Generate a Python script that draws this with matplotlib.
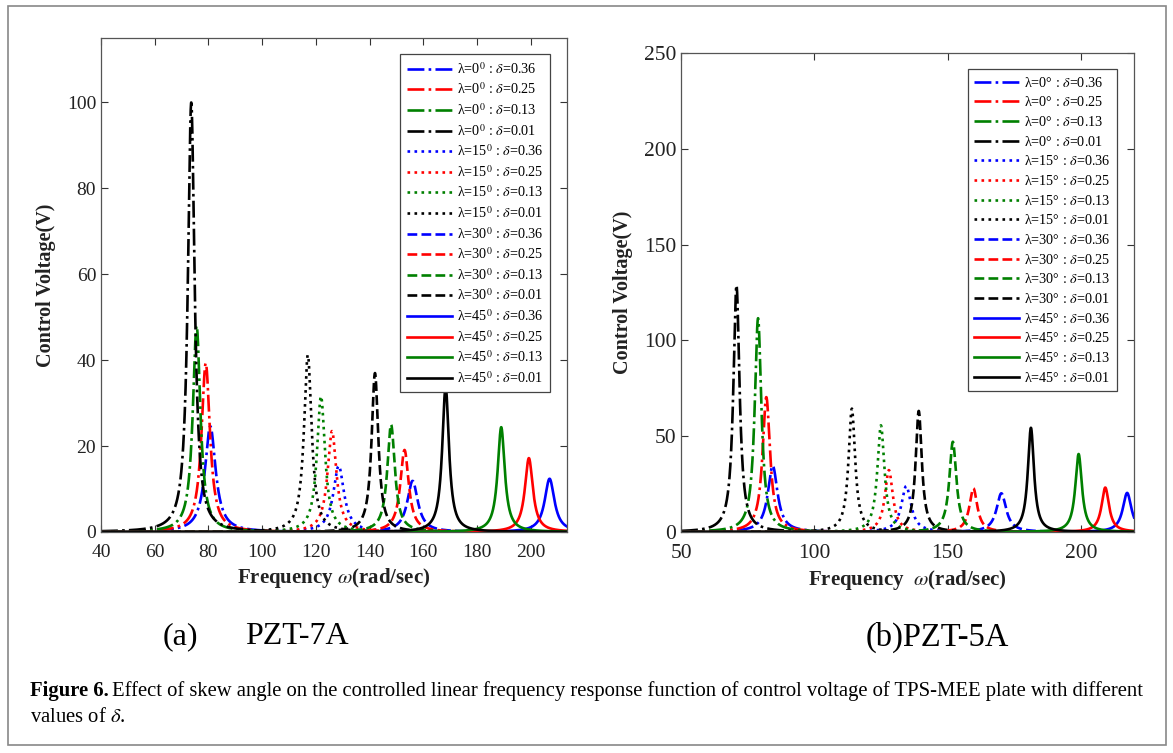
import numpy as np
import matplotlib
matplotlib.use("Agg")
import matplotlib.pyplot as plt
from matplotlib.patches import Rectangle

plt.rcParams['font.family'] = ['Liberation Serif', 'DejaVu Serif']
plt.rcParams['mathtext.fontset'] = 'stix'

# skew angles (rows) and delta values (columns)
skew_angles = [0, 15, 30, 45]
deltas = [0.36, 0.25, 0.13, 0.01]
colors = ['#0000ff', '#ff0000', '#008000', '#000000']
styles = ['-.', ':', '--', '-']

# PZT-7A : resonance frequency (rad/s), peak voltage (V), half width (rad/s)
pzt7a_freq = [[80.7, 79.0, 75.6, 73.6],
              [128.5, 126.0, 121.9, 117.0],
              [156.0, 153.0, 148.0, 142.0],
              [207.0, 199.3, 189.0, 168.3]]
pzt7a_volt = [[24.6, 39.3, 48.0, 100.0],
              [15.4, 23.5, 31.6, 41.2],
              [11.9, 19.1, 25.0, 37.0],
              [12.4, 17.2, 24.4, 33.9]]
pzt7a_width = [[2.4, 1.9, 1.7, 1.5],
               [2.4, 2.0, 1.8, 1.7],
               [2.4, 1.9, 1.7, 1.5],
               [2.2, 1.8, 1.6, 1.5]]

# PZT-5A
pzt5a_freq = [[84.4, 82.0, 78.9, 70.8],
              [134.5, 128.0, 125.0, 114.1],
              [170.2, 159.7, 152.0, 139.2],
              [217.4, 209.2, 199.2, 181.3]]
pzt5a_volt = [[34.6, 70.4, 111.6, 128.8],
              [24.0, 32.3, 55.7, 64.4],
              [20.2, 22.8, 47.1, 63.2],
              [20.4, 23.2, 40.7, 54.4]]
pzt5a_width = [[2.2, 1.7, 1.5, 1.4],
               [2.2, 1.8, 1.6, 1.5],
               [2.2, 1.8, 1.6, 1.4],
               [2.0, 1.7, 1.5, 1.4]]


def response(w, w0, vmax, g):
    # single mode resonance curve around w0
    return vmax / (1.0 + ((w - w0) / g) ** 2)


def draw_panel(ax, freq, volt, width, xlim, ylim, xticks, yticks, deg, tsize, xlab, spacing):
    w = np.linspace(xlim[0], xlim[1], 4000)
    for i, lam in enumerate(skew_angles):
        for j, d in enumerate(deltas):
            if deg:
                lab = 'λ=%d° : $\\delta$=%.2f' % (lam, d)
            else:
                lab = 'λ=%d$^{0}$ : $\\delta$=%.2f' % (lam, d)
            ax.plot(w, response(w, freq[i][j], volt[i][j], width[i][j]),
                    color=colors[j], linestyle=styles[i], lw=1.9, label=lab)
    ax.set_xlim(xlim)
    ax.set_ylim(ylim)
    ax.set_xticks(xticks)
    ax.set_yticks(yticks)
    ax.tick_params(direction='in', top=True, right=True, length=5,
                   width=0.8, labelsize=tsize, colors='#333333', labelcolor='#222222')
    ax.tick_params(axis='x', pad=9)
    for s in ax.spines.values():
        s.set_color('#555555')
        s.set_linewidth(0.9)
    ax.set_xlabel(xlab, fontsize=15, fontweight='bold', color='#222222', labelpad=3)
    ax.set_ylabel('Control Voltage(V)', fontsize=14.5, fontweight='bold',
                  color='#222222', labelpad=8)
    leg = ax.legend(loc='upper right', bbox_to_anchor=(0.978, 0.981), fontsize=10.2,
                    labelspacing=spacing, handlelength=3.2, handletextpad=0.35,
                    borderpad=0.45, fancybox=False, framealpha=1)
    leg.get_frame().set_edgecolor('#444444')
    leg.get_frame().set_linewidth(0.9)


fig = plt.figure(figsize=(11.73, 7.53), dpi=100)
ax1 = fig.add_axes([0.0861, 0.2935, 0.3973, 0.656])
ax2 = fig.add_axes([0.5806, 0.2935, 0.3862, 0.636])

draw_panel(ax1, pzt7a_freq, pzt7a_volt, pzt7a_width, (40, 213.5), (0, 115),
           [40, 60, 80, 100, 120, 140, 160, 180, 200], [0, 20, 40, 60, 80, 100],
           False, 14, 'Frequency $\\omega$(rad/sec)', 0.34)
draw_panel(ax2, pzt5a_freq, pzt5a_volt, pzt5a_width, (50, 220), (0, 250),
           [50, 100, 150, 200], [0, 50, 100, 150, 200, 250],
           True, 15.5, 'Frequency  $\\omega$(rad/sec)', 0.40)

# outer frame of the figure
fig.patches.append(Rectangle((8 / 1173, 8 / 753), 1158 / 1173, 739 / 753,
                             transform=fig.transFigure, fill=False,
                             edgecolor='#888888', lw=1.2))

fig.text(163 / 1173, 1 - 637 / 753, '(a)', fontsize=23, va='center')
fig.text(245 / 1173, 1 - 637 / 753, 'PZT-7A', fontsize=23, va='center')
fig.text(866 / 1173, 1 - 637 / 753, '(b)PZT-5A', fontsize=23.5, va='center')

r = fig.canvas.get_renderer()
t1 = fig.text(30 / 1173, 1 - 691 / 753, 'Figure 6.', fontsize=14.9,
              fontweight='bold', va='center')
x1 = t1.get_window_extent(r).x1
fig.text((x1 + 3) / 1173, 1 - 691 / 753,
         'Effect of skew angle on the controlled linear frequency response function '
         'of control voltage of TPS-MEE plate with different',
         fontsize=14.9, va='center')
fig.text(30 / 1173, 1 - 717 / 753, 'values of $\\delta$.', fontsize=14.9, va='center')

fig.savefig('out.png', dpi=100)
